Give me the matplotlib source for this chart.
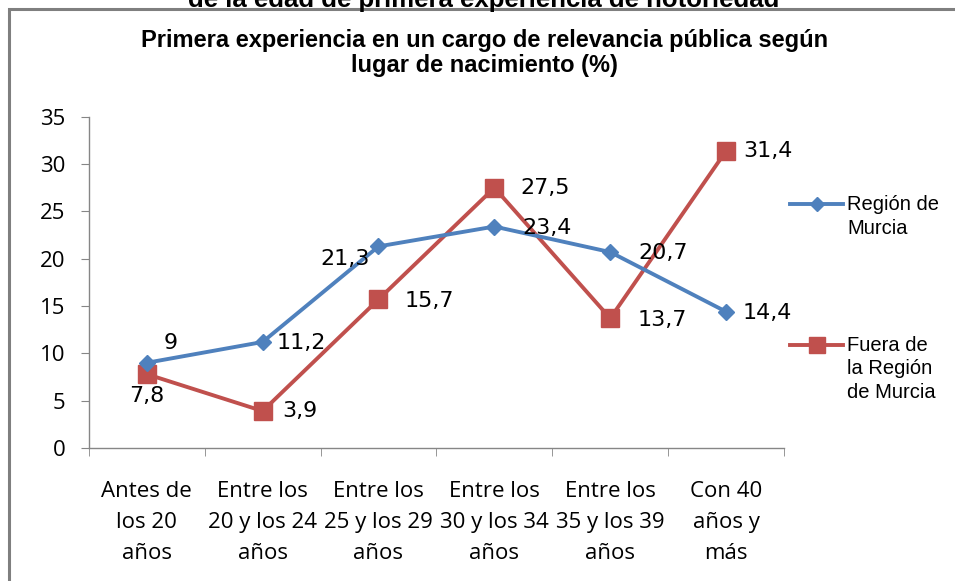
import matplotlib
matplotlib.use("Agg")
import matplotlib.pyplot as plt
from matplotlib.lines import Line2D
from matplotlib.patches import Rectangle

# --- Data ---
categories = ["Antes de\nlos 20\naños", "Entre los\n20 y los 24\naños",
              "Entre los\n25 y los 29\naños", "Entre los\n30 y los 34\naños",
              "Entre los\n35 y los 39\naños", "Con 40\naños y\nmás"]
murcia = [9, 11.2, 21.3, 23.4, 20.7, 14.4]
fuera = [7.8, 3.9, 15.7, 27.5, 13.7, 31.4]
murcia_label = "Región de\nMurcia"
fuera_label = "Fuera de\nla Región\nde Murcia"
title = "Primera experiencia en un cargo de relevancia pública según\nlugar de nacimiento (%)"
cut_title = "de la edad de primera experiencia de notoriedad"

# label offsets in points (dx, dy) per point
murcia_off = [(12, 14), (10, -1), (-6, -9), (20, -1), (20, -1), (12, -1)]
murcia_ha = ["left", "left", "right", "left", "left", "left"]
fuera_off = [(0, -16), (14, 0), (19, -1), (19, 0), (20, -1), (12, 0)]
fuera_ha = ["center", "left", "left", "left", "left", "left"]


def fmt(v):
    return f"{v:g}".replace(".", ",")


# --- Figure ---
fig = plt.figure(figsize=(9.55, 5.81), dpi=100)
ax = fig.add_axes([0.093, 0.229, 0.728, 0.570])

blue = "#4F81BD"
red = "#C0504D"
grey = "#868686"
x = range(len(categories))

ax.plot(x, murcia, color=blue, lw=2.8, marker="D", ms=8.5, zorder=3)
ax.plot(x, fuera, color=red, lw=2.8, marker="s", ms=13, zorder=2)

for i, v in enumerate(murcia):
    ax.annotate(fmt(v), (i, v), xytext=murcia_off[i], textcoords="offset points",
                ha=murcia_ha[i], va="center", fontsize=16, family="DejaVu Sans")
for i, v in enumerate(fuera):
    ax.annotate(fmt(v), (i, v), xytext=fuera_off[i], textcoords="offset points",
                ha=fuera_ha[i], va="center", fontsize=16, family="DejaVu Sans")

ax.set_xlim(-0.5, len(categories) - 0.5)
ax.set_ylim(0, 35)
ax.set_yticks(range(0, 36, 5))
ax.set_xticks(list(x))
ax.set_xticklabels(categories, fontsize=16, family="Open Sans", linespacing=1.62)
ax.set_xticks([i - 0.5 for i in range(len(categories) + 1)], minor=True)
ax.tick_params(axis="x", which="major", length=0, pad=24)
ax.tick_params(axis="x", which="minor", length=6, color=grey, direction="out")
ax.tick_params(axis="y", length=6, color=grey, direction="out", pad=11)
for lab in ax.get_yticklabels():
    lab.set_fontsize(16)
    lab.set_family("Open Sans")

for side in ["top", "right"]:
    ax.spines[side].set_visible(False)
for side in ["left", "bottom"]:
    ax.spines[side].set_color(grey)
    ax.spines[side].set_linewidth(1)

# legend, handle aligned with the first line of each label (as in the source)
W, H = 955, 581
for lab, col, mk, ms, yp in [(murcia_label, blue, "D", 7, 204), (fuera_label, red, "s", 11, 345)]:
    fig.add_artist(Line2D([790 / W, 843 / W], [1 - yp / H] * 2, transform=fig.transFigure,
                          color=col, lw=2.8))
    fig.add_artist(Line2D([816.5 / W], [1 - yp / H], transform=fig.transFigure,
                          color=col, marker=mk, ms=ms, lw=0))
    fig.text(847 / W, 1 - (yp - 9) / H, lab, ha="left", va="top", fontsize=14.5,
             family="Liberation Sans", linespacing=1.3)

fig.text(0.507, 0.909, title, ha="center", va="center", fontsize=17,
         fontweight="bold", family="Liberation Sans", linespacing=1.12)
fig.text(0.507, 1.0, cut_title, ha="center", va="center", fontsize=18.5,
         fontweight="bold", family="Liberation Sans")

# outer frame (cut at right/bottom edge as in the source image)
fig.patches.append(Rectangle((8.5 / W, -0.1), 1.2, 1.1 - 8.5 / H, transform=fig.transFigure,
                             fill=False, edgecolor="#7F7F7F", lw=2.2))

fig.savefig("out.png", dpi=100)
